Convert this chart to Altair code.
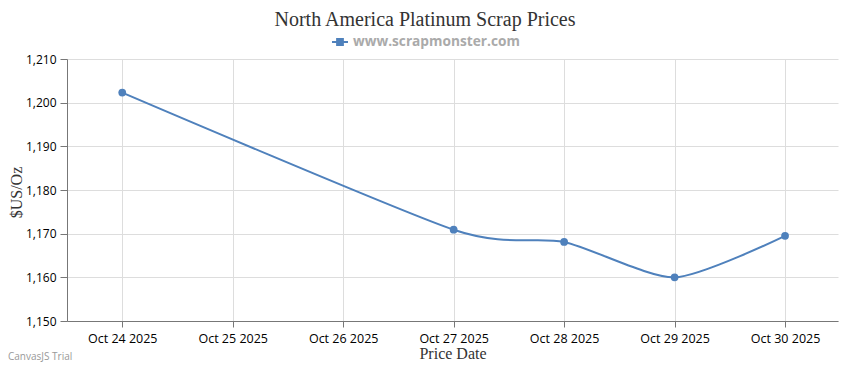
import altair as alt
import pandas as pd

dates = ["2025-10-24", "2025-10-27", "2025-10-28", "2025-10-29", "2025-10-30"]
prices = [1202.3, 1170.9, 1168.1, 1160.0, 1169.5]
series_name = "www.scrapmonster.com"
tick_dates = ["2025-10-24", "2025-10-25", "2025-10-26", "2025-10-27",
              "2025-10-28", "2025-10-29", "2025-10-30"]
y_ticks = [1150, 1160, 1170, 1180, 1190, 1200, 1210]

df = pd.DataFrame({"date": dates, "price": prices, "series": series_name})

BLUE = "#4f81bc"
W, H = 771, 262

x_enc = alt.X(
    "date:T",
    scale=alt.Scale(domain=["2025-10-23T12:00:00", "2025-10-30T11:30:00"]),
    axis=alt.Axis(
        values=tick_dates, format="%b %d %Y", labelFont="Open Sans",
        labelFontSize=12.5, labelColor="#000", labelPadding=5, tickSize=6,
        tickColor="#777", domainColor="#777", gridColor="#dddddd",
        title="Price Date", titleFont="Liberation Serif", titleFontSize=16,
        titleFontWeight="normal", titleColor="#333", titlePadding=1,
        labelFlush=False,
    ),
)
y_enc = alt.Y(
    "price:Q",
    scale=alt.Scale(domain=[1150, 1210], nice=False, zero=False),
    axis=alt.Axis(
        values=y_ticks, format=",d", labelFont="Open Sans", labelFontSize=12,
        labelColor="#000", labelPadding=4, tickSize=7, tickColor="#777",
        domainColor="#777", gridColor="#dddddd", title="$US/Oz",
        titleFont="Liberation Serif", titleFontSize=16, titleFontWeight="normal",
        titleColor="#333", titleX=-43, titleY=133, titleBaseline="bottom",
    ),
)
color_enc = alt.Color(
    "series:N",
    scale=alt.Scale(range=[BLUE]),
    legend=alt.Legend(
        title=None, orient="none", legendX=264, legendY=-26,
        symbolType="M-1,0L1,0M-0.36,-0.36L0.36,-0.36L0.36,0.36L-0.36,0.36Z",
        symbolSize=256, symbolStrokeWidth=2, symbolFillColor=BLUE,
        symbolStrokeColor=BLUE, labelFont="Open Sans", labelFontSize=13.7,
        labelFontWeight="bold", labelColor="#aaaaaa", labelOffset=4,
        labelLimit=400,
    ),
)

base = alt.Chart(df)
line = base.mark_line(interpolate="cardinal", tension=0.3, strokeWidth=2).encode(
    x=x_enc, y=y_enc, color=color_enc
)
points = base.mark_circle(size=60, opacity=1, color=BLUE).encode(x="date:T", y="price:Q")

title_df = pd.DataFrame({"t": ["North America Platinum Scrap Prices"]})
title = alt.Chart(title_df).mark_text(
    font="Liberation Serif", fontSize=20, color="#333", align="center", baseline="alphabetic"
).encode(text="t:N", x=alt.value(358), y=alt.value(-33))

trial_df = pd.DataFrame({"t": ["CanvasJS Trial"]})
trial = alt.Chart(trial_df).mark_text(
    font="Open Sans", fontSize=10, color="#999", align="left", baseline="alphabetic"
).encode(text="t:N", x=alt.value(-59), y=alt.value(301))

chart = alt.layer(line, points, title, trial).properties(
    width=W, height=H,
    autosize=alt.AutoSizeParams(type="none"),
    padding={"left": 59, "top": 51, "right": 4, "bottom": 41},
).configure_view(stroke=None)

chart.save("out.html", embed_options={"renderer": "svg", "actions": False})
